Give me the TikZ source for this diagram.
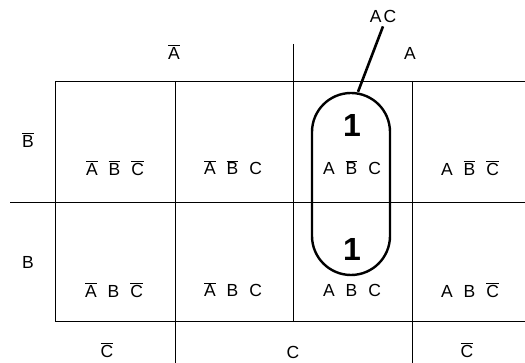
\documentclass[tikz,border=0pt]{standalone}
\usepackage{fontspec}
\setmainfont{Liberation Sans}
\usetikzlibrary{calc}
\newcommand{\nt}[1]{$\overline{\mbox{#1}}$}
\newcommand{\term}[3]{#1\hspace{11pt}#2\hspace{11pt}#3}

\begin{document}
\begin{tikzpicture}[x=1pt,y=-1pt,
  font=\fontsize{17.5}{20}\selectfont,
  grid/.style={line width=0.9pt},
  lbl/.style={inner sep=0pt},
  one/.style={inner sep=0pt,font=\fontsize{32}{34}\selectfont\bfseries},
  loopbox/.style={draw,line width=2.4pt,rounded corners=39pt,minimum width=78pt,minimum height=182pt,inner sep=0pt}]
\useasboundingbox (0,0) rectangle (525,363);
% map outline
\draw[grid] (525,81) -- (55,81) -- (55,321) -- (525,321);
\draw[grid] (10,202) -- (525,202);
\draw[grid] (175,81) -- (175,363);
\draw[grid] (293,44) -- (293,321);
\draw[grid] (412,81) -- (412,363);
% variable labels
\node[lbl] (na) at (174,52) {\nt{A}};
\node[lbl] (pa) at (410,53) {A};
\node[lbl] (nb) at (28,140) {\nt{B}};
\node[lbl] (pb) at (28,262) {B};
\node[lbl] (nc1) at (107,350) {\nt{C}};
\node[lbl] (pc) at (293,352) {C};
\node[lbl] (nc2) at (467,350) {\nt{C}};
% cell terms
\node[lbl] (m0) at (115,168) {\term{\nt{A}}{\nt{B}}{\nt{C}}};
\node[lbl] (m1) at (233,168) {\term{\nt{A}}{\nt{B}}{C}};
\node[lbl] (m5) at (352,168) {\term{A}{\nt{B}}{C}};
\node[lbl] (m4) at (470,168) {\term{A}{\nt{B}}{\nt{C}}};
\node[lbl] (m2) at (114,290) {\term{\nt{A}}{B}{\nt{C}}};
\node[lbl] (m3) at (233,290) {\term{\nt{A}}{B}{C}};
\node[lbl] (m7) at (352,290) {\term{A}{B}{C}};
\node[lbl] (m6) at (470,290) {\term{A}{B}{\nt{C}}};
% group
\node[one] (one5) at (352,125) {1};
\node[one] (one7) at (352,249) {1};
\node[loopbox] (grp) at (351,184) {};
\node[lbl] (ac) at (383,16) {A\hspace{2pt}C};
\draw[line width=2.6pt] ($(ac.south)+(0,4)$) -- ($(grp.north)+(7,0)$);
\end{tikzpicture}
\end{document}
